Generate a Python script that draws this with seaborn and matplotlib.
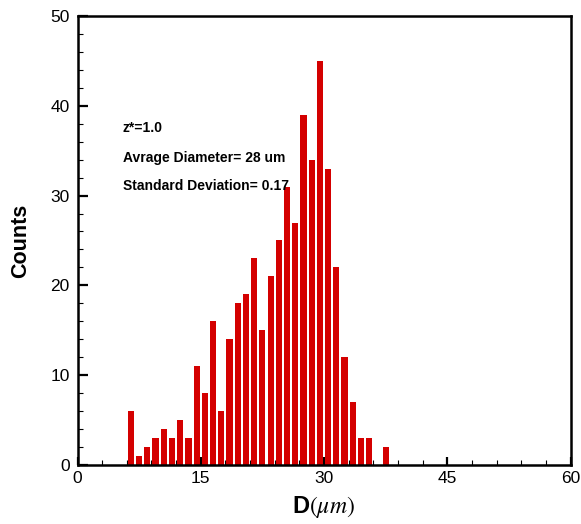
import matplotlib
matplotlib.use("Agg")
import matplotlib.pyplot as plt
import seaborn as sns
import numpy as np
import pandas as pd
from matplotlib.ticker import MultipleLocator

# Data: histogram bins (left edge, 1 um wide) and counts
bin_left = [6, 7, 8, 9, 10, 11, 12, 13, 14, 15, 16, 17, 18, 19, 20, 21,
            22, 23, 24, 25, 26, 27, 28, 29, 30, 31, 32, 33, 34, 35, 36, 37]
counts = [6, 1, 2, 3, 4, 3, 5, 3, 11, 8, 16, 6, 14, 18, 19, 23,
          15, 21, 25, 31, 27, 39, 34, 45, 33, 22, 12, 7, 3, 3, 0, 2]
x_ticks = [0, 15, 30, 45, 60]
y_ticks = [0, 10, 20, 30, 40, 50]
notes = ["z*=1.0", "Avrage Diameter= 28 um", "Standard Deviation= 0.17"]

sns.set_theme(style="white")
plt.rcParams['font.family'] = ['Liberation Sans', 'DejaVu Sans']
plt.rcParams['mathtext.fontset'] = 'stix'
plt.rcParams['text.color'] = 'black'
plt.rcParams['axes.labelcolor'] = 'black'

df = pd.DataFrame({"D": np.array(bin_left) + 0.5, "Counts": counts})

fig = plt.figure(figsize=(5.81, 5.24), dpi=100)
ax = fig.add_axes([0.1334, 0.1126, 0.8486, 0.857])

sns.barplot(data=df, x="D", y="Counts", native_scale=True, width=0.75,
            color="#d40000", saturation=1, edgecolor="none", ax=ax)

ax.set_xlim(0, 60)
ax.set_ylim(0, 50)
ax.set_xticks(x_ticks)
ax.set_yticks(y_ticks)
ax.xaxis.set_minor_locator(MultipleLocator(3))
ax.yaxis.set_minor_locator(MultipleLocator(2))
ax.tick_params(axis='both', which='both', bottom=True, left=True, top=False, right=False)
ax.tick_params(axis='both', which='major', direction='in', length=7, width=1.6,
               labelsize=12.5, colors='black', pad=5.5)
ax.tick_params(axis='both', which='minor', direction='in', length=3.5, width=0.8,
               colors='black')
ax.tick_params(axis='x', which='major', length=6, pad=4)

for s in ax.spines.values():
    s.set_visible(True)
    s.set_color('black')
    s.set_linewidth(1.8)

ax.set_ylabel("Counts", fontsize=15.5, fontweight='bold', labelpad=14)
ax.set_xlabel(r"D$(\mu m)$", fontsize=17, fontweight='bold', labelpad=6)

ys = [37.5, 34.2, 31.1]
for t, yv in zip(notes, ys):
    ax.text(5.5, yv, t, fontsize=10, fontweight='bold', va='center', ha='left',
            color='black')

fig.savefig("out.png", dpi=100)
